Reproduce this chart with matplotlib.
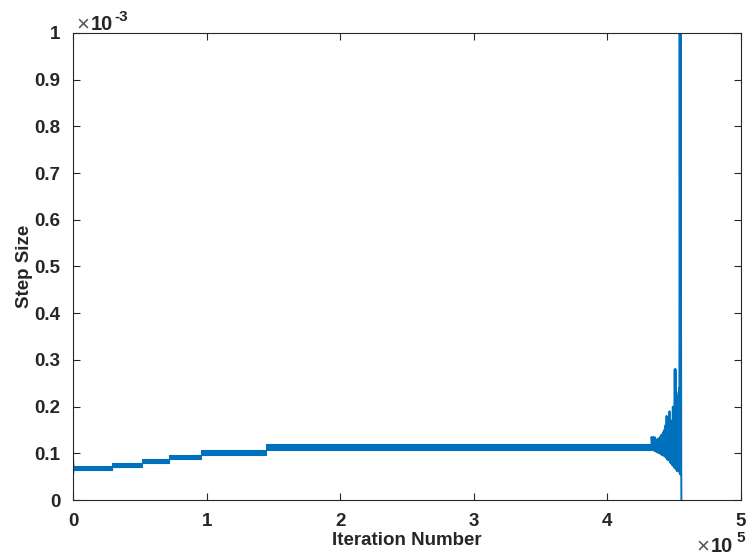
import numpy as np
import matplotlib.pyplot as plt
from matplotlib.ticker import FuncFormatter

plt.rcParams['font.family'] = ['Liberation Sans', 'DejaVu Sans']

# step-size plateaus: iteration edges and the band (min / max) of each plateau
seg_edges = [0, 0.29e5, 0.52e5, 0.72e5, 0.96e5, 1.445e5, 4.33e5]
seg_lo = [0.064e-3, 0.070e-3, 0.080e-3, 0.088e-3, 0.097e-3, 0.107e-3]
seg_hi = [0.072e-3, 0.079e-3, 0.087e-3, 0.097e-3, 0.107e-3, 0.121e-3]

# first few iterations
head_x = [0, 0, 0, 0]
head_y = [0.088e-3, 0.058e-3, 0.080e-3, 0.066e-3]

# oscillations just before the run blows up (x in 1e5, y in 1e-3)
burst_x = [4.330, 4.331, 4.338, 4.345, 4.350, 4.356, 4.360, 4.365, 4.372, 4.380,
           4.387, 4.394, 4.400, 4.405, 4.410, 4.416, 4.420, 4.425, 4.430, 4.435,
           4.440, 4.443, 4.446, 4.449, 4.452, 4.456, 4.460, 4.465, 4.470, 4.474,
           4.478, 4.481, 4.484, 4.490, 4.495, 4.499, 4.502, 4.504, 4.506, 4.510,
           4.514, 4.517, 4.520, 4.522, 4.525, 4.528, 4.531, 4.533, 4.536, 4.538,
           4.539, 4.541, 4.545, 4.548, 4.553, 4.555]
burst_y = [0.110, 0.135, 0.107, 0.135, 0.106, 0.134, 0.104, 0.130, 0.102, 0.132,
           0.100, 0.135, 0.098, 0.140, 0.096, 0.145, 0.095, 0.150, 0.093, 0.160,
           0.090, 0.180, 0.088, 0.175, 0.086, 0.150, 0.085, 0.190, 0.080, 0.140,
           0.078, 0.170, 0.075, 0.200, 0.072, 0.170, 0.070, 0.280, 0.068, 0.280,
           0.066, 0.230, 0.062, 0.220, 0.064, 0.210, 0.063, 0.200, 0.060, 0.240,
           0.070, 1.200, 0.055, 1.200, 0.060, -0.050]

blue = '#0072BD'
dark = '#262626'

fig = plt.figure(figsize=(7.48, 5.57), dpi=100)
ax = fig.add_axes([0.0976, 0.1023, 0.893, 0.8385])

for i in range(len(seg_lo)):
    ax.fill_between([seg_edges[i], seg_edges[i + 1]], seg_lo[i], seg_hi[i],
                    color=blue, linewidth=0.8, edgecolor=blue)
ax.plot(head_x, head_y, color=blue, lw=0.9)
ax.plot(np.array(burst_x) * 1e5, np.array(burst_y) * 1e-3, color=blue, lw=1.4)

ax.set_xlim(0, 5e5)
ax.set_ylim(0, 1e-3)
ax.set_xticks(np.arange(0, 6) * 1e5)
ax.set_yticks(np.arange(0, 11) * 1e-4)
ax.xaxis.set_major_formatter(FuncFormatter(lambda v, p: '%g' % round(v / 1e5, 3)))
ax.yaxis.set_major_formatter(FuncFormatter(lambda v, p: '%g' % round(v / 1e-3, 3)))

ax.tick_params(direction='in', length=5, width=0.8, colors=dark, top=True, right=True,
               labelsize=13.5, pad=9)
for lbl in ax.get_xticklabels() + ax.get_yticklabels():
    lbl.set_fontweight('bold')
for sp in ax.spines.values():
    sp.set_color(dark)
    sp.set_linewidth(0.8)

ax.set_xlabel('Iteration Number', fontsize=13.5, fontweight='bold', color=dark, labelpad=2)
ax.set_ylabel('Step Size', fontsize=13.5, fontweight='bold', color=dark, labelpad=1)

# exponent labels in MATLAB style
fig.text(76 / 748, 1 - 30 / 557, '\u00d7', fontsize=16, color='#555555')
fig.text(91 / 748, 1 - 30 / 557, '10', fontsize=14.5, fontweight='bold', color=dark)
fig.text(114 / 748, 1 - 21 / 557, '-3', fontsize=11, fontweight='bold', color=dark)
fig.text(696 / 748, 1 - 552 / 557, '\u00d7', fontsize=16, color='#555555')
fig.text(711 / 748, 1 - 552 / 557, '10', fontsize=14.5, fontweight='bold', color=dark)
fig.text(736 / 748, 1 - 542 / 557, '5', fontsize=11, fontweight='bold', color=dark)

fig.savefig('out.png', dpi=100)
